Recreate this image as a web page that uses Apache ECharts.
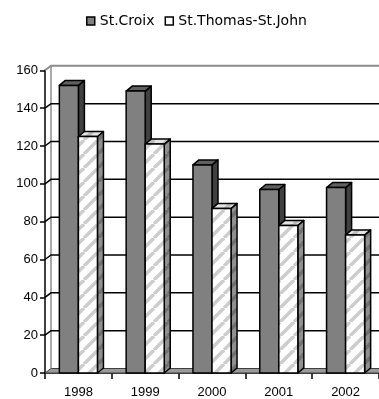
<!DOCTYPE html>
<html>
<head>
<meta charset="utf-8">
<script src="https://cdn.jsdelivr.net/npm/echarts@6/dist/echarts.min.js"></script>
<style>
html,body{margin:0;padding:0;background:#fff;}
#c{width:379px;height:399px;}
</style>
</head>
<body>
<div id="c"></div>
<script>
const categories = ['1998', '1999', '2000', '2001', '2002'];
const stCroix = [152, 149, 110, 97, 98];
const stThomas = [125, 121, 87, 78, 73];
const seriesNames = ['St.Croix', 'St.Thomas-St.John'];
const yMin = 0, yMax = 160, yStep = 20;
const yTicks = [0, 20, 40, 60, 80, 100, 120, 140, 160];

function stripePattern(bg, fg) {
  const s = 14;
  const cv = document.createElement('canvas');
  cv.width = s; cv.height = s;
  const ctx = cv.getContext('2d');
  ctx.fillStyle = bg; ctx.fillRect(0, 0, s, s);
  ctx.strokeStyle = fg; ctx.lineWidth = 3.5;
  for (let k = -1; k <= 1; k++) {
    ctx.beginPath();
    ctx.moveTo(k * s, s);
    ctx.lineTo(k * s + s, 0);
    ctx.stroke();
  }
  return { image: cv, repeat: 'repeat' };
}

const DX = 6, DY = 5;       // bar depth
const WDX = 6, WDY = 4.5;   // wall depth

const styles = [
  { front: '#808080', top: '#606060', side: '#404040' },
  { front: stripePattern('#ffffff', '#cdcdcd'), top: stripePattern('#e4e4e4', '#bcbcbc'), side: stripePattern('#909090', '#707070') }
];

function barRenderer(si) {
  return function (params, api) {
    const idx = api.value(0), v = api.value(1);
    const pT = api.coord([idx, v]);
    const pB = api.coord([idx, 0]);
    const band = api.size([1, 0])[0];
    const bw = band * 0.285;
    const x0 = si === 0 ? pT[0] - bw : pT[0];
    const x1 = x0 + bw;
    const yt = pT[1], yb = pB[1];
    const st = styles[si];
    const line = { stroke: '#000', lineWidth: 1.5, lineJoin: 'round' };
    return {
      type: 'group',
      children: [
        { type: 'polygon', shape: { points: [[x1, yt], [x1 + DX, yt - DY], [x1 + DX, yb - DY], [x1, yb]] }, style: Object.assign({ fill: st.side }, line) },
        { type: 'polygon', shape: { points: [[x0, yt], [x0 + DX, yt - DY], [x1 + DX, yt - DY], [x1, yt]] }, style: Object.assign({ fill: st.top }, line) },
        { type: 'polygon', shape: { points: [[x0, yt], [x1, yt], [x1, yb], [x0, yb]] }, style: Object.assign({ fill: st.front }, line) }
      ]
    };
  };
}

function wallRenderer(params, api) {
  const v = api.value(0);
  const cs = params.coordSys;
  const xL = cs.x, xR = cs.x + cs.width + 20;
  const y = api.coord([0, v])[1];
  if (v === yMin) {
    const yTop = api.coord([0, yMax])[1];
    return {
      type: 'group',
      children: [
        { type: 'polygon', shape: { points: [[xL, y], [xL + WDX, y - WDY], [xR + WDX, y - WDY], [xR, y]] }, style: { fill: '#9a9a9a', stroke: '#404040', lineWidth: 1 } },
        { type: 'line', shape: { x1: xL + WDX, y1: y - WDY, x2: xL + WDX, y2: yTop - WDY }, style: { stroke: '#8c8c8c', lineWidth: 1.5 } }
      ]
    };
  }
  const isTop = v === yMax;
  return {
    type: 'polyline',
    shape: { points: [[xL, y], [xL + WDX, y - WDY], [xR, y - WDY]] },
    style: { fill: null, stroke: isTop ? '#8c8c8c' : '#000', lineWidth: isTop ? 2 : 1.5 }
  };
}

const chart = echarts.init(document.getElementById('c'), null, { renderer: 'canvas' });
chart.setOption({
  animation: false,
  legend: {
    left: 86, top: 14, padding: 0,
    icon: 'rect', itemWidth: 8, itemHeight: 8, itemGap: 10,
    textStyle: { fontFamily: 'DejaVu Sans', fontSize: 14, color: '#000' },
    data: [
      { name: seriesNames[0], itemStyle: { color: '#808080', borderColor: '#000', borderWidth: 1.5 } },
      { name: seriesNames[1], itemStyle: { color: '#ffffff', borderColor: '#000', borderWidth: 1.5 } }
    ]
  },
  grid: { left: 45, top: 70.3, width: 336.5, height: 304, containLabel: false },
  xAxis: {
    type: 'category',
    data: categories,
    axisLine: { show: true, lineStyle: { color: '#000', width: 1.5 } },
    axisTick: { show: true, interval: 0, length: 6, alignWithLabel: false, lineStyle: { color: '#000', width: 1.5 } },
    axisLabel: { margin: 13, color: '#000', fontFamily: 'Liberation Sans', fontSize: 13, interval: 0 },
    splitLine: { show: false }
  },
  yAxis: {
    type: 'value',
    min: yMin, max: yMax, interval: yStep,
    axisLine: { show: true, lineStyle: { color: '#000', width: 1.5 } },
    axisTick: { show: true, length: 5, lineStyle: { color: '#000', width: 1.5 } },
    axisLabel: { margin: 7, color: '#000', fontFamily: 'Liberation Sans', fontSize: 13 },
    splitLine: { show: false }
  },
  series: [
    {
      name: 'walls', type: 'custom', silent: true, z: 1,
      renderItem: wallRenderer,
      encode: { y: 0 },
      data: yTicks.map(t => [t])
    },
    {
      name: seriesNames[0], type: 'custom', z: 2,
      itemStyle: { color: '#808080' },
      renderItem: barRenderer(0),
      encode: { x: 0, y: 1 },
      data: categories.map((c, i) => [i, stCroix[i]])
    },
    {
      name: seriesNames[1], type: 'custom', z: 3,
      itemStyle: { color: '#ffffff' },
      renderItem: barRenderer(1),
      encode: { x: 0, y: 1 },
      data: categories.map((c, i) => [i, stThomas[i]])
    }
  ]
});
</script>
</body>
</html>
